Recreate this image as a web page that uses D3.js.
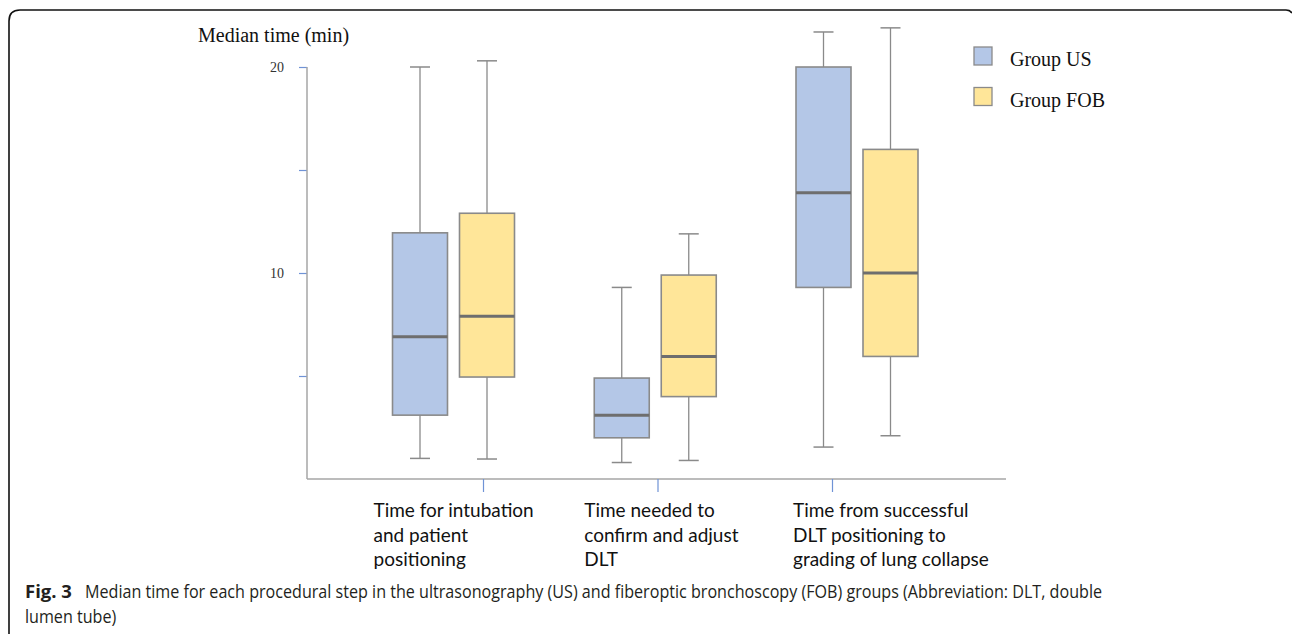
<!DOCTYPE html>
<html>
<head>
<meta charset="utf-8">
<script src="https://cdn.jsdelivr.net/npm/d3@7"></script>
<style>
  html, body { margin: 0; padding: 0; background: #fff; }
  svg { display: block; }
</style>
</head>
<body>
<svg id="chart" width="1292" height="634"></svg>
<script>
// ---------------- DATA ----------------
const categories = [
  ["Time for intubation", "and patient", "positioning"],
  ["Time needed to", "confirm and adjust", "DLT"],
  ["Time from successful", "DLT positioning to", "grading of lung collapse"]
];
const groups = ["Group US", "Group FOB"];
// [whiskerLow, Q1, median, Q3, whiskerHigh] in minutes
const usValues = [
  [1.0, 3.1, 6.9, 11.95, 20.0],
  [0.8, 2.0, 3.1, 4.9, 9.3],
  [1.55, 9.3, 13.9, 20.0, 21.7]
];
const fobValues = [
  [0.97, 4.95, 7.9, 12.9, 20.3],
  [0.9, 4.0, 5.95, 9.9, 11.9],
  [2.1, 5.95, 10.0, 16.0, 21.9]
];
const yTicks = [5, 10, 15, 20];
const yTickLabels = ["", "10", "", "20"];
const yTitle = "Median time (min)";
const captionBold = "Fig. 3";
const captionLine1 = "Median time for each procedural step in the ultrasonography (US) and fiberoptic bronchoscopy (FOB) groups (Abbreviation: DLT, double";
const captionLine2 = "lumen tube)";

// ---------------- LAYOUT ----------------
const svg = d3.select("#chart");
const colors = ["#b4c7e7", "#ffe699"];
const serif = "'Liberation Serif', 'Times New Roman', serif";
const sans = "Lato, 'Open Sans', sans-serif";
const capFont = "'Open Sans', 'Noto Sans', sans-serif";

const y = d3.scaleLinear().domain([0, 20]).range([479, 67]);
const xAxisLeft = 307, xAxisRight = 1006;
const idx = categories.map((d, i) => i);
const xGroup = d3.scalePoint().domain(idx).range([453.5, 857]);
const xTick = d3.scalePoint().domain(idx).range([483, 832]);
const labelOffset = [-80, -71, -64];
const groupOffset = [-33.5, 33.5];
const boxW = 55, capW = 20;

// frame
svg.append("path")
  .attr("d", "M9,634 V21 Q9,10 20,10 H1286 Q1290,10 1292,13")
  .attr("fill", "none").attr("stroke", "#111").attr("stroke-width", 1.6);

// y axis
const yAxis = d3.axisLeft(y).tickValues(yTicks).tickSize(8)
  .tickFormat((d, i) => yTickLabels[i]);
const gy = svg.append("g").attr("transform", `translate(${xAxisLeft},0)`).call(yAxis);
gy.select(".domain").remove();
gy.selectAll(".tick line").attr("stroke", "#6f93d6").attr("stroke-width", 1.2);
gy.selectAll(".tick text").attr("font-family", serif).attr("font-size", 14)
  .attr("fill", "#333").attr("x", -23);
svg.append("line").attr("x1", xAxisLeft).attr("x2", xAxisLeft)
  .attr("y1", y(20)).attr("y2", y(0)).attr("stroke", "#a6a6a6").attr("stroke-width", 1.5);

// x axis
svg.append("line").attr("x1", xAxisLeft).attr("x2", xAxisRight)
  .attr("y1", y(0)).attr("y2", y(0)).attr("stroke", "#a6a6a6").attr("stroke-width", 1.5);
const xAxis = d3.axisBottom(xTick).tickSize(13).tickFormat("");
const gx = svg.append("g").attr("transform", `translate(0,${y(0)})`).call(xAxis);
gx.select(".domain").remove();
gx.selectAll(".tick line").attr("stroke", "#6f93d6").attr("stroke-width", 1.2);

// y title
svg.append("text").attr("x", 198).attr("y", 42).text(yTitle)
  .attr("font-family", serif).attr("font-size", 20).attr("fill", "#111");

// category labels
categories.forEach((lines, i) => {
  const t = svg.append("text")
    .attr("x", xGroup(i) + labelOffset[i]).attr("y", 517)
    .attr("font-family", sans).attr("font-size", 19).attr("fill", "#111");
  lines.forEach((ln, j) => {
    t.append("tspan").attr("x", xGroup(i) + labelOffset[i]).attr("y", 517 + j * 24.5).text(ln);
  });
});

// boxes
[usValues, fobValues].forEach((series, s) => {
  series.forEach((v, i) => {
    const cx = xGroup(i) + groupOffset[s];
    const [lo, q1, med, q3, hi] = v;
    const g = svg.append("g");
    g.append("line").attr("x1", cx).attr("x2", cx).attr("y1", y(q3)).attr("y2", y(hi))
      .attr("stroke", "#8a8a8a").attr("stroke-width", 1.3);
    g.append("line").attr("x1", cx).attr("x2", cx).attr("y1", y(q1)).attr("y2", y(lo))
      .attr("stroke", "#8a8a8a").attr("stroke-width", 1.3);
    g.append("line").attr("x1", cx - capW / 2).attr("x2", cx + capW / 2).attr("y1", y(hi)).attr("y2", y(hi))
      .attr("stroke", "#8a8a8a").attr("stroke-width", 1.5);
    g.append("line").attr("x1", cx - capW / 2).attr("x2", cx + capW / 2).attr("y1", y(lo)).attr("y2", y(lo))
      .attr("stroke", "#8a8a8a").attr("stroke-width", 1.5);
    g.append("rect").attr("x", cx - boxW / 2).attr("width", boxW)
      .attr("y", y(q3)).attr("height", y(q1) - y(q3))
      .attr("fill", colors[s]).attr("stroke", "#8a8a8a").attr("stroke-width", 1.6);
    g.append("line").attr("x1", cx - boxW / 2).attr("x2", cx + boxW / 2).attr("y1", y(med)).attr("y2", y(med))
      .attr("stroke", "#6e6e6e").attr("stroke-width", 3);
  });
});

// legend
groups.forEach((gname, i) => {
  const ly = 47 + i * 40.5;
  svg.append("rect").attr("x", 974).attr("y", ly).attr("width", 18).attr("height", 18)
    .attr("fill", colors[i]).attr("stroke", "#8a8a8a").attr("stroke-width", 1.3);
  svg.append("text").attr("x", 1010).attr("y", ly + 19).text(gname)
    .attr("font-family", serif).attr("font-size", 20).attr("fill", "#111");
});

// caption: condensed to span the same width as in the reference
const capSize = 18.5;
const capBold = svg.append("text").attr("x", 25).attr("y", 598).text(captionBold)
  .attr("font-family", capFont).attr("font-size", capSize).attr("font-weight", "bold")
  .attr("fill", "#231f20");
const naturalB = capBold.node().getComputedTextLength();
capBold.attr("textLength", Math.min(naturalB, 50)).attr("lengthAdjust", "spacingAndGlyphs");
const cap1 = svg.append("text").attr("x", 85).attr("y", 598).text(captionLine1)
  .attr("font-family", capFont).attr("font-size", capSize).attr("fill", "#231f20");
const natural1 = cap1.node().getComputedTextLength();
const ratio = 1017 / natural1;
cap1.attr("textLength", 1017).attr("lengthAdjust", "spacingAndGlyphs");
const cap2 = svg.append("text").attr("x", 25).attr("y", 623).text(captionLine2)
  .attr("font-family", capFont).attr("font-size", capSize).attr("fill", "#231f20");
const natural2 = cap2.node().getComputedTextLength();
cap2.attr("textLength", natural2 * ratio).attr("lengthAdjust", "spacingAndGlyphs");
</script>
</body>
</html>
